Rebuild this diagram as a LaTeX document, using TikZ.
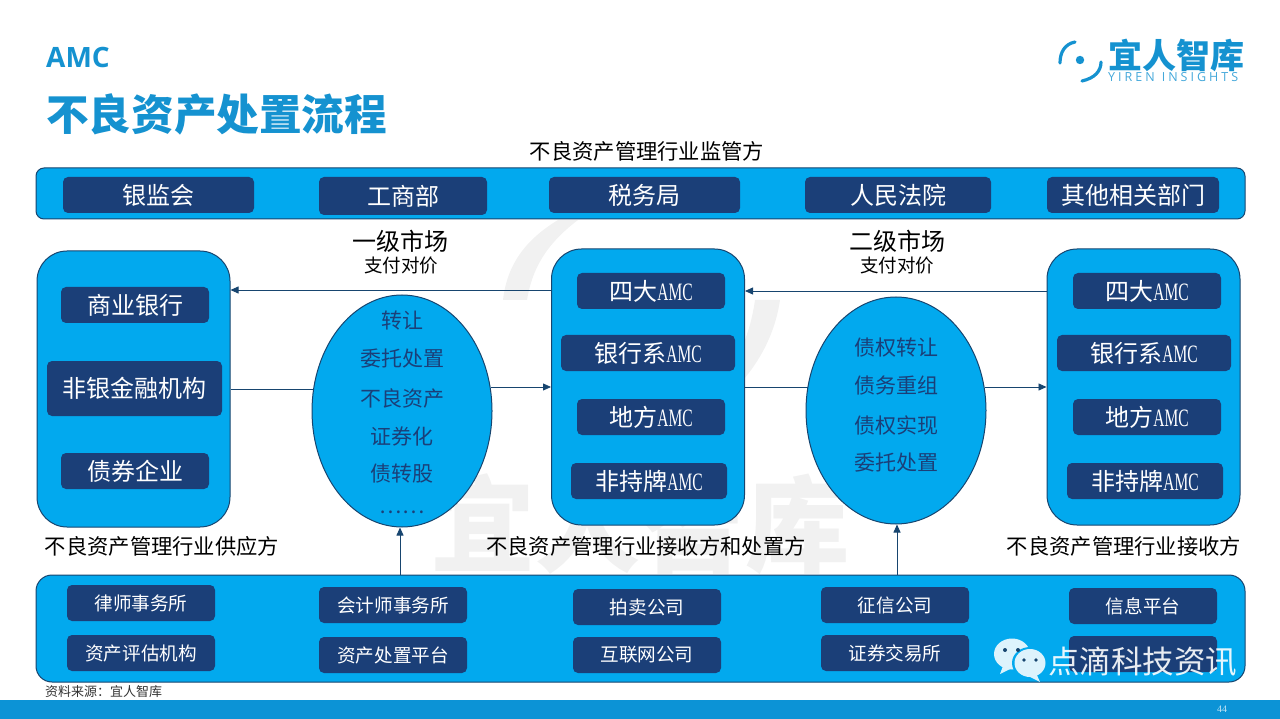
\documentclass[tikz,border=0pt]{standalone}
\usepackage{fontspec}
\usepackage{xcolor}
\usepackage{graphicx}
\setmainfont{Liberation Serif}
\newfontfamily\cjk{Noto Sans CJK SC}
\newfontfamily\latinbold{Open Sans}
\newfontfamily\latinspaced[LetterSpace=24]{Open Sans}
\usetikzlibrary{shapes.geometric, arrows.meta}

\definecolor{bandblue}{HTML}{02A9EE}
\definecolor{boxblue}{HTML}{1B3F78}
\definecolor{edgeblue}{HTML}{17456F}
\definecolor{titleblue}{HTML}{1592D0}
\definecolor{barblue}{HTML}{0C93D6}
\definecolor{markgray}{HTML}{F1F1F1}
\definecolor{chatwhite}{HTML}{DDF3FC}

\newcommand{\amc}{\scalebox{0.62}[1]{\rmfamily\fontsize{25}{25}\selectfont AMC}}

\tikzset{
  bandbox/.style={draw=edgeblue, line width=1pt, fill=bandblue, rounded corners=8pt},
  groupbox/.style={draw=edgeblue, line width=1pt, fill=bandblue, rounded corners=30pt,
    minimum width=193pt, minimum height=276pt},
  itembox/.style={fill=boxblue, text=white, rounded corners=5pt, inner sep=0pt, minimum height=36pt,
    font=\cjk\fontsize{24}{24}\selectfont},
  smallbox/.style={itembox, minimum width=148pt, font=\cjk\fontsize{18.6}{19}\selectfont},
  waybubble/.style={ellipse, draw=edgeblue, line width=1pt, fill=bandblue, minimum width=180pt},
  waytext/.style={text=boxblue, font=\cjk\fontsize{21}{21}\selectfont},
  plainlabel/.style={text=black, font=\cjk\fontsize{21.3}{22}\selectfont},
  flowline/.style={draw=edgeblue, line width=0.8pt},
  flowarrow/.style={flowline, -{Triangle[length=8pt,width=7pt]}}
}

\begin{document}
\begin{tikzpicture}[x=1pt, y=-1pt]
\useasboundingbox (0,0) rectangle (1280,719);

% Watermark behind the chart
\fill[markgray] (558,220) .. controls (525,240) and (507,265) .. (503,300) -- (527,300) .. controls (532,270) and (545,245) .. (578,220) -- cycle;
\fill[markgray] (755,300) .. controls (750,335) and (738,360) .. (722,382) -- (736,388) .. controls (758,365) and (775,335) .. (780,300) -- cycle;
\node[text=markgray, font=\cjk\bfseries\fontsize{105}{105}\selectfont] (markname) at (640,524) {宜人智库};

% Title and logo
\node[anchor=west, inner sep=0pt, text=titleblue, font=\latinbold\bfseries\fontsize{28}{28}\selectfont] (subject) at (46,58) {AMC};
\node[anchor=west, inner sep=0pt, text=titleblue, font=\cjk\bfseries\fontsize{42.6}{43}\selectfont] (heading) at (46,114) {不良资产处置流程};
\draw[titleblue, line width=3.2pt, line cap=round] (1060,63) .. controls (1060,52) and (1065,44) .. (1075,42);
\draw[titleblue, line width=3.2pt, line cap=round] (1101,62) .. controls (1101,71) and (1095,78) .. (1082,81);
\fill[titleblue] (1080,60) circle (4.2);
\node[anchor=west, inner sep=0pt, text=titleblue, font=\cjk\bfseries\fontsize{34}{34}\selectfont] (logoname) at (1108,55) {宜人智库};
\node[anchor=west, inner sep=0pt, text=titleblue!80, font=\latinspaced\fontsize{12.5}{13}\selectfont] (logolatin) at (1108,77) {YIREN\hspace{7pt}INSIGHTS};

% Regulators
\node[plainlabel] (toplabel) at (647,151) {不良资产管理行业监管方};
\node[bandbox, minimum width=1209pt, minimum height=51pt] (topband) at (640.5,193.5) {};
\node[itembox, minimum width=191pt] (yinjian) at (158.5,195) {银监会};
\node[itembox, minimum width=168pt, minimum height=38pt] (gongshang) at (403,196) {工商部};
\node[itembox, minimum width=191pt] (shuiwu) at (644.5,195) {税务局};
\node[itembox, minimum width=186pt] (fayuan) at (898,195) {人民法院};
\node[itembox, minimum width=172pt] (qita) at (1133,195) {其他相关部门};

% Market labels
\node[text=black, font=\cjk\fontsize{24}{24}\selectfont] (market1) at (400,241) {一级市场};
\node[text=black, font=\cjk\fontsize{18.5}{19}\selectfont] (pay1) at (401,266) {支付对价};
\node[text=black, font=\cjk\fontsize{24}{24}\selectfont] (market2) at (897,241) {二级市场};
\node[text=black, font=\cjk\fontsize{18.5}{19}\selectfont] (pay2) at (897,266) {支付对价};

% Supplier
\node[groupbox] (supply) at (133.5,389) {};
\node[itembox, minimum width=148pt] (shangye) at (135,305) {商业银行};
\node[itembox, minimum width=175pt, minimum height=55pt] (feiyin) at (134.5,388.5) {非银金融机构};
\node[itembox, minimum width=148pt] (zhaiquan) at (135,471) {债券企业};
\node[plainlabel] (supplylabel) at (162,546) {不良资产管理行业供应方};

% Receiver and disposer
\node[groupbox] (dispose) at (648,387) {};
\node[itembox, minimum width=148pt] (sida1) at (651,291) {四大\amc};
\node[itembox, minimum width=174pt] (yinhang1) at (648,353) {银行系\amc};
\node[itembox, minimum width=148pt] (difang1) at (651,417) {地方\amc};
\node[itembox, minimum width=156pt] (feichi1) at (649,481) {非持牌\amc};
\node[plainlabel] (disposelabel) at (646,546) {不良资产管理行业接收方和处置方};

% Receiver
\node[groupbox] (receive) at (1143.5,387) {};
\node[itembox, minimum width=148pt] (sida2) at (1147,291) {四大\amc};
\node[itembox, minimum width=174pt] (yinhang2) at (1144,353) {银行系\amc};
\node[itembox, minimum width=148pt] (difang2) at (1147,417) {地方\amc};
\node[itembox, minimum width=156pt] (feichi2) at (1145,481) {非持牌\amc};
\node[plainlabel] (receivelabel) at (1124,546) {不良资产管理行业接收方};

% Ways of disposal
\node[waybubble, minimum height=232pt] (way1) at (402,411) {};
\node[waytext] (way1a) at (402,321) {转让};
\node[waytext] (way1b) at (402,359) {委托处置};
\node[waytext] (way1c) at (402,398) {不良资产};
\node[waytext] (way1d) at (402,436) {证券化};
\node[waytext] (way1e) at (402,474) {债转股};
\node[waytext] (way1f) at (402,512) {……};
\node[waybubble, minimum height=227pt] (way2) at (896,410.5) {};
\node[waytext] (way2a) at (896,348) {债权转让};
\node[waytext] (way2b) at (896,386) {债务重组};
\node[waytext] (way2c) at (896,425) {债权实现};
\node[waytext] (way2d) at (896,463) {委托处置};

% Service providers
\node[bandbox, rounded corners=16pt, minimum width=1209pt, minimum height=107pt] (lowband) at (640.5,628.5) {};
\node[smallbox] (lvshi) at (141,603) {律师事务所};
\node[smallbox] (pinggu) at (141,653) {资产评估机构};
\node[smallbox] (kuaiji) at (393,605) {会计师事务所};
\node[smallbox] (pingtai) at (393,655) {资产处置平台};
\node[smallbox] (paimai) at (647,607) {拍卖公司};
\node[smallbox] (hulian) at (647,655) {互联网公司};
\node[smallbox] (zhengxin) at (895,605) {征信公司};
\node[smallbox] (jiaoyi) at (895,653) {证券交易所};
\node[smallbox] (xinxi) at (1143,606) {信息平台};
\node[smallbox] (hidden) at (1143,654) {};

% Flows
\draw[flowarrow] (dispose.west |- 0,290) -- (supply.east |- 0,290);
\draw[flowarrow] (receive.west |- 0,291) -- (dispose.east |- 0,291);
\draw[flowline] (supply.east |- 0,389) -- ([xshift=2pt]way1.west |- 0,389);
\draw[flowarrow] ([xshift=-2pt]way1.east |- 0,387) -- (dispose.west |- 0,387);
\draw[flowline] (dispose.east |- 0,387) -- ([xshift=2pt]way2.west |- 0,387);
\draw[flowarrow] ([xshift=-2pt]way2.east |- 0,387) -- (receive.west |- 0,387);
\draw[flowarrow] ([xshift=-2pt]way1.south |- lowband.north) -- ([xshift=-2pt]way1.south);
\draw[flowarrow] ([xshift=1pt]way2.south |- lowband.north) -- ([xshift=1pt]way2.south);

% Footer
\fill[barblue] (0,700) rectangle (1280,719);
\node[anchor=west, inner sep=0pt, text=black!80, font=\cjk\fontsize{13}{13}\selectfont] (source) at (45,692) {资料来源：宜人智库};
\node[text=white!75!barblue, font=\rmfamily\fontsize{10}{10}\selectfont] (pageno) at (1222,709) {44};

% Chat mark over the lower band
\fill[chatwhite] (1012,654) ellipse (18 and 15.5);
\fill[chatwhite] (1003,666) -- (1000,674) -- (1012,668) -- cycle;
\fill[bandblue] (1030,663) ellipse (18 and 16);
\fill[chatwhite] (1030,663) ellipse (15.5 and 14);
\fill[chatwhite] (1036,673) -- (1040,682) -- (1028,676) -- cycle;
\fill[edgeblue] (1005,650) circle (2) (1018,650) circle (2) (1024,660) circle (1.8) (1036,660) circle (1.8);
\node[anchor=west, inner sep=0pt, text=white, opacity=0.9, font=\cjk\fontsize{31.5}{32}\selectfont] (chatname) at (1048,662) {点滴科技资讯};

\end{tikzpicture}
\end{document}
